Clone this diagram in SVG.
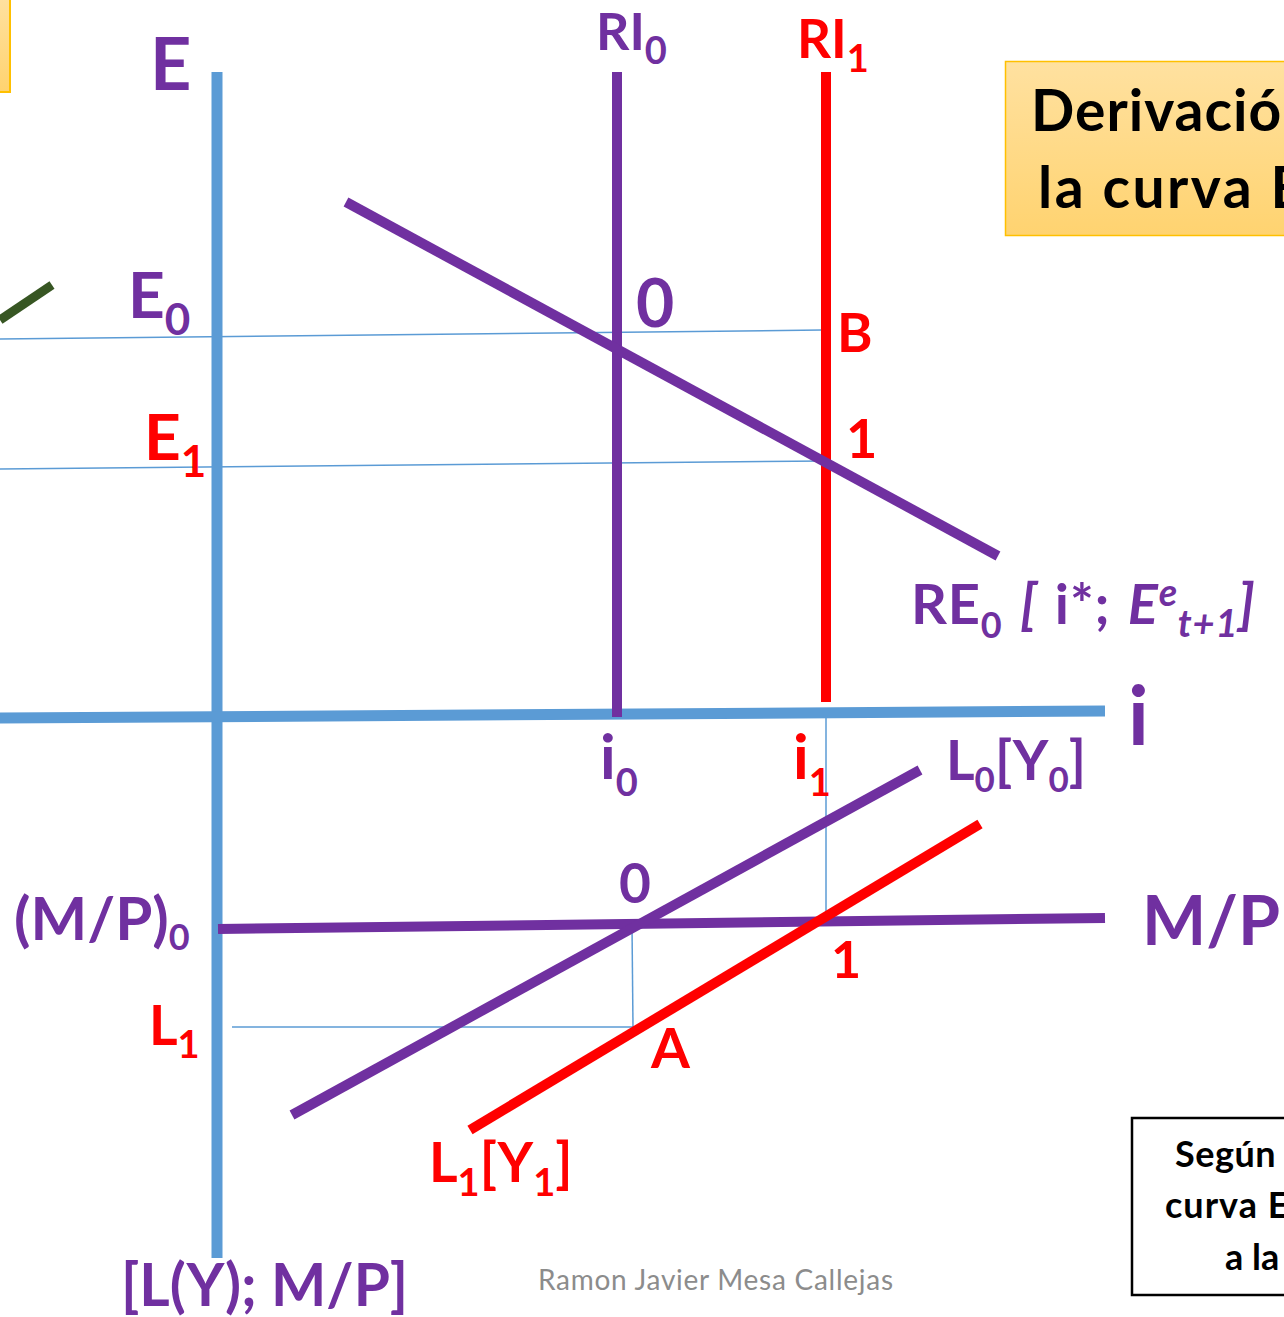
<svg xmlns="http://www.w3.org/2000/svg" width="1284" height="1317" viewBox="0 0 1284 1317">
<defs>
<linearGradient id="og" x1="0" y1="0" x2="0" y2="1">
<stop offset="0" stop-color="#FFE1A0"/>
<stop offset="1" stop-color="#FFD370"/>
</linearGradient>
<style>
text{font-family:Lato,"Open Sans","Liberation Sans",sans-serif;font-weight:bold}
.p{fill:#7030A0}
.r{fill:#FF0000}
.k{fill:#000}
.ax{stroke:#5B9BD5;stroke-width:11;fill:none}
.th{stroke:#5B9BD5;stroke-width:1.5;fill:none}
.lp{stroke:#7030A0;stroke-width:10;fill:none}
.lr{stroke:#FF0000;stroke-width:10;fill:none}
</style>
</defs>
<rect width="1284" height="1317" fill="#fff"/>

<g id="boxes">
<rect id="box-topleft" x="-20" y="-5" width="30" height="97" fill="url(#og)" stroke="#FFC000" stroke-width="2"/>
<g id="box-title">
<rect x="1005.5" y="61.5" width="300" height="174" fill="url(#og)" stroke="#FFC000" stroke-width="1.5"/>
<text class="k" x="1031" y="131" font-size="57" letter-spacing="1">Derivación</text>
<text class="k" x="1038" y="208" font-size="57" letter-spacing="2.5">la curva E</text>
</g>
<g id="box-note">
<rect x="1132" y="1118" width="200" height="177" fill="#fff" stroke="#000" stroke-width="2.5"/>
<text class="k" x="1175" y="1167" font-size="36" letter-spacing="0.5">Según</text>
<text class="k" x="1165" y="1218" font-size="36" letter-spacing="1">curva E</text>
<text class="k" x="1225" y="1270" font-size="36">a la</text>
</g>
</g>

<g id="connectors">
<line class="th" x1="0" y1="339" x2="822" y2="330"/>
<line class="th" x1="0" y1="469" x2="826" y2="461"/>
<line class="th" x1="826" y1="716" x2="826" y2="916"/>
<line class="th" x1="632" y1="926" x2="633" y2="1027"/>
<line class="th" x1="232" y1="1027" x2="633" y2="1027"/>
<line x1="0" y1="320" x2="52" y2="285" stroke="#375623" stroke-width="9"/>
<line class="ax" x1="217" y1="72" x2="217" y2="1258"/>
<line class="ax" x1="0" y1="718" x2="1105" y2="711"/>
<line class="lp" x1="617" y1="72" x2="617" y2="717"/>
<line class="lr" x1="826" y1="72" x2="826" y2="702"/>
<line class="lp" x1="346" y1="202" x2="998" y2="556"/>
<line class="lp" x1="218" y1="929" x2="1105" y2="918"/>
<line class="lp" x1="292" y1="1115" x2="920" y2="770"/>
<line class="lr" x1="470" y1="1130" x2="980" y2="824"/>
</g>

<g id="labels">
<text class="p" x="150" y="90" font-size="72">E</text>
<text class="p" x="596" y="50" font-size="52">RI<tspan font-size="38" dy="14">0</tspan></text>
<text class="r" x="797" y="58" font-size="53">RI<tspan font-size="38" dy="14">1</tspan></text>
<text class="p" x="128" y="318" font-size="64">E<tspan font-size="44" dy="17">0</tspan></text>
<text class="r" x="144" y="460" font-size="64">E<tspan font-size="44" dy="17">1</tspan></text>
<text class="p" x="636" y="327" font-size="66">0</text>
<text class="r" x="837" y="352" font-size="54">B</text>
<text class="r" x="846" y="458" font-size="54">1</text>
<text class="p" x="911" y="624" font-size="56" letter-spacing="0.8" word-spacing="3">RE<tspan font-size="36" dy="14">0</tspan><tspan dy="-14"> </tspan><tspan font-style="italic">[</tspan><tspan> i*; </tspan><tspan font-style="italic">E</tspan><tspan font-style="italic" font-size="38" dy="-18">e</tspan><tspan font-style="italic" font-size="38" dy="31">t+1</tspan><tspan font-style="italic" dy="-13">]</tspan></text>
<text class="p" x="1128" y="745" font-size="82">i</text>
<text class="p" x="600" y="779" font-size="62">i<tspan font-size="38" dy="17">0</tspan></text>
<text class="r" x="793" y="779" font-size="62">i<tspan font-size="38" dy="17">1</tspan></text>
<text class="p" x="946" y="780" font-size="55">L<tspan font-size="35" dy="12">0</tspan><tspan dy="-12">[Y</tspan><tspan font-size="35" dy="12">0</tspan><tspan dy="-12">]</tspan></text>
<text class="p" x="1142" y="945" font-size="68">M/P</text>
<text class="p" x="14" y="940" font-size="60">(M/P)<tspan font-size="36" dy="10">0</tspan></text>
<text class="p" x="619" y="903" font-size="55">0</text>
<text class="r" x="831" y="978" font-size="52">1</text>
<text class="r" x="651" y="1068" font-size="56">A</text>
<text class="r" x="149" y="1045" font-size="55">L<tspan font-size="38" dy="13">1</tspan></text>
<text class="r" x="429" y="1182" font-size="55">L<tspan font-size="38" dy="14">1</tspan><tspan dy="-14">[Y</tspan><tspan font-size="38" dy="14">1</tspan><tspan dy="-14">]</tspan></text>
<text class="p" x="121" y="1306" font-size="60" textLength="287" lengthAdjust="spacingAndGlyphs">[L(Y); M/P]</text>
<text x="538" y="1290" font-size="28" style="font-weight:normal" fill="#8C8C8C" textLength="355">Ramon Javier Mesa Callejas</text>
</g>
</svg>
